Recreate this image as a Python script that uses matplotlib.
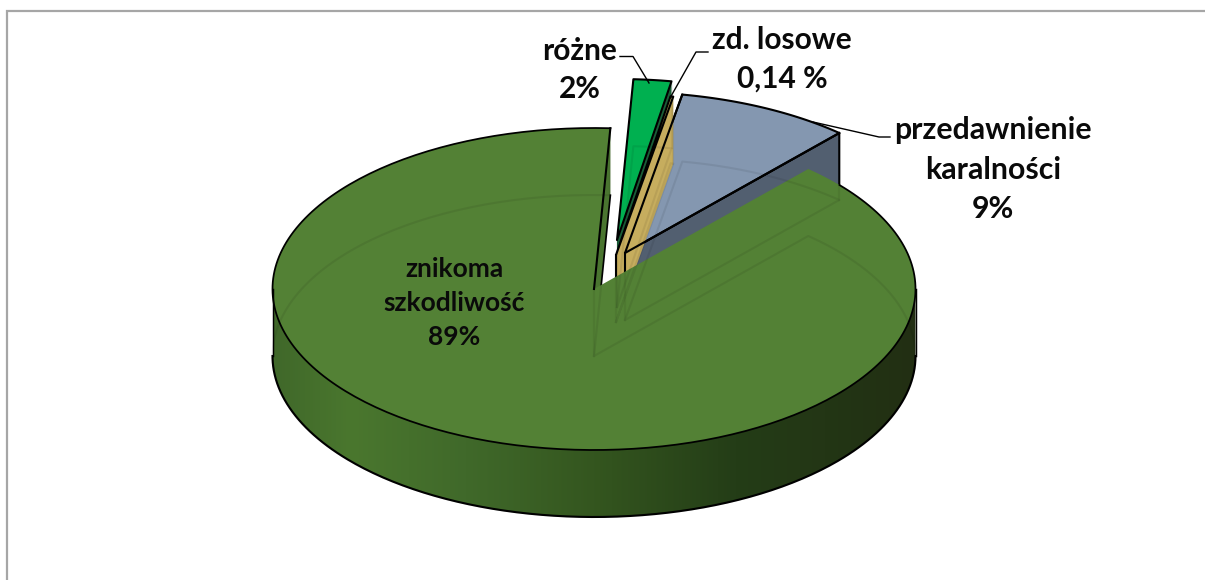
import numpy as np
import matplotlib
matplotlib.use("Agg")
import matplotlib.pyplot as plt
from matplotlib.patches import Polygon
from matplotlib.colors import LinearSegmentedColormap

# ---- data ----
categories = ["znikoma\nszkodliwość", "różne", "zd. losowe", "przedawnienie\nkaralności"]
values = [89.2, 1.9, 0.14, 8.76]
value_labels = ["89%", "2%", "0,14 %", "9%"]

# ---- layout / style ----
W, H = 1205, 580
CX, CY, RX, RY, DEPTH = 594, 289, 321.5, 161, 67
START = 41.8
offsets = [(0, 0), (23, -49), (22, -34), (31, -36)]
top_colors = ["#538135", "#00b050", "#c4ae60", "#8497b0"]
cut_colors = ["#4a7530", "#1b5e38", "#c6ad5e", "#525f70"]
draw_order = [3, 1, 2, 0]
EDGE = 1.5
label_pos = [(454.5, 301, 34, 19), (579.5, 67.5, 39, 21.5), (782, 57, 39, 21.5), (993, 167.5, 39.5, 21.8)]

fig = plt.figure(figsize=(W / 100, H / 100), dpi=100)
ax = fig.add_axes([0, 0, 1, 1])
ax.set_xlim(0, W)
ax.set_ylim(H, 0)
ax.axis("off")

sweeps = np.array(values) / np.sum(values) * 360
starts = START + np.concatenate([[0], np.cumsum(sweeps)[:-1]])


def rim(th, ox=0, oy=0, drop=0):
    t = np.radians(th)
    return np.column_stack([CX + ox + RX * np.sin(t), CY + oy + drop - RY * np.cos(t)])


def arc(a, b, n=240):
    return np.linspace(a, b, n)


# frame
ax.plot([6.5, 6.5, W], [H, 11, 11], color="#a6a6a6", lw=1.6, solid_joinstyle="miter")

for i in draw_order:
    s, e = starts[i], starts[i] + sweeps[i]
    ox, oy = offsets[i]
    apex = np.array([[CX + ox, CY + oy]])
    a_arc = rim(arc(s, e), ox, oy)
    edge_pt = rim([e], ox, oy)
    # visible cut wall (clockwise end of the slice)
    wall = np.vstack([apex, edge_pt, edge_pt + [0, DEPTH], apex + [0, DEPTH]])
    if i == 0:
        ax.add_patch(Polygon(wall, closed=True, fc=cut_colors[i], ec="none", zorder=2))
        ax.plot(*np.vstack([edge_pt + [0, DEPTH], apex + [0, DEPTH]]).T, color="black", lw=EDGE * 0.8, zorder=2.1)
        # outer wall with horizontal gradient
        th = arc(90, 270)
        poly = np.vstack([rim(th), rim(th[::-1], drop=DEPTH)])
        cmap = LinearSegmentedColormap.from_list(
            "w", [(0, "#40682a"), (0.12, "#4a772e"), (0.3, "#40692a"), (0.5, "#34561f"),
                  (0.72, "#243d17"), (1, "#222f13")])
        im = ax.imshow(np.linspace(0, 1, 256)[None, :], extent=[CX - RX, CX + RX, CY + 2 * DEPTH + RY, CY - RY],
                       cmap=cmap, aspect="auto", zorder=2)
        p = Polygon(poly, closed=True, fc="none", ec="none", transform=ax.transData)
        ax.add_patch(p)
        im.set_clip_path(p)
        ax.set_xlim(0, W)
        ax.set_ylim(H, 0)
        ax.plot(*rim(th, drop=DEPTH).T, color="black", lw=EDGE, zorder=7)
        for side in (90, 270):
            ax.plot(*np.vstack([rim([side]), rim([side], drop=DEPTH)]).T, color="black", lw=EDGE * 0.7, zorder=7)
        ax.add_patch(Polygon(np.vstack([apex, a_arc]), closed=True, fc=top_colors[i], ec="none", zorder=6))
        ax.plot(*rim(arc(s + 8, e)).T, color="black", lw=EDGE * 0.85, zorder=7)
        ax.plot(*np.vstack([edge_pt, apex]).T, color="black", lw=EDGE, zorder=7)
    else:
        z = {3: 3, 1: 4, 2: 5}[i]
        ax.add_patch(Polygon(wall, closed=True, fc=cut_colors[i], ec="black" if i == 3 else "none",
                             lw=EDGE, joinstyle="round", zorder=z))
        ax.add_patch(Polygon(np.vstack([apex, a_arc]), closed=True, fc=top_colors[i], ec="black",
                             lw=EDGE, joinstyle="round", zorder=z))
        if i == 2:
            ax.plot(*np.vstack([apex, apex + [0, DEPTH]]).T, color="black", lw=EDGE, zorder=z)

    # faint see-through outline of the lower face
    g_arc = rim(arc(s, e), ox, oy, DEPTH)
    g = np.vstack([apex + [0, DEPTH], g_arc, apex + [0, DEPTH]])
    ax.plot(*g.T, color="black", alpha=0.07, lw=1.5, zorder=8)
    ax.plot(*np.vstack([apex, apex + [0, DEPTH]]).T, color="black", alpha=0.06, lw=1.5, zorder=8)
    ax.plot(*np.vstack([edge_pt, edge_pt + [0, DEPTH]]).T, color="black", alpha=0.06, lw=1.5, zorder=8)

# blue slice outline shows through the tan wall
i = 3
bl_apex = np.array([[CX + offsets[i][0], CY + offsets[i][1]]])
ax.plot(*np.vstack([rim([starts[i]], *offsets[i]), bl_apex, rim([starts[i] + sweeps[i]], *offsets[i])]).T,
        color="black", lw=EDGE, zorder=5.5)
ax.plot(*np.vstack([bl_apex, bl_apex + [0, DEPTH]]).T, color="black", lw=EDGE, zorder=5.5)

# leader lines
leaders = [([620, 633, 649], [56.5, 56.5, 83]),
           ([708, 696, 670], [52, 52, 98]),
           ([890, 879, 813], [137, 137, 122])]
for xs, ys in leaders:
    ax.plot(xs, ys, color="black", lw=1.0, zorder=9)

# labels
for cat, val, (x, y, gap, fs) in zip(categories, value_labels, label_pos):
    lines = cat.split("\n") + [val]
    y0 = y - gap * (len(lines) - 1) / 2
    for k, t in enumerate(lines):
        ax.text(x, y0 + k * gap, t, ha="center", va="center_baseline", fontsize=fs,
                fontweight="bold", family="Lato", color="#0a0a0a", zorder=10)

fig.savefig("out.png", dpi=100)
